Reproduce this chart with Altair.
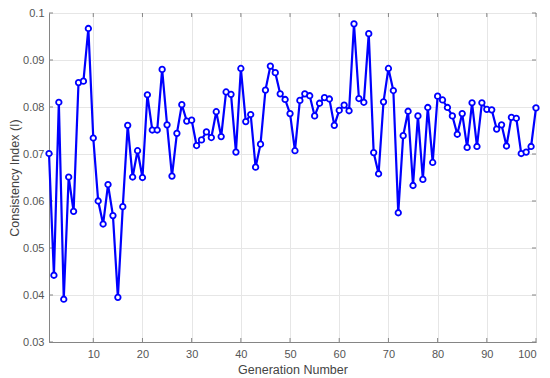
import altair as alt
import pandas as pd

generation = list(range(1, 101))
consistency = [
    0.0701, 0.0442, 0.0810, 0.0391, 0.0651, 0.0578, 0.0852, 0.0855, 0.0967, 0.0734,
    0.0600, 0.0551, 0.0635, 0.0569, 0.0395, 0.0588, 0.0761, 0.0651, 0.0707, 0.0650,
    0.0826, 0.0751, 0.0751, 0.0880, 0.0762, 0.0653, 0.0744, 0.0805, 0.0770, 0.0772,
    0.0718, 0.0730, 0.0747, 0.0735, 0.0790, 0.0737, 0.0832, 0.0827, 0.0704, 0.0882,
    0.0769, 0.0784, 0.0672, 0.0721, 0.0836, 0.0887, 0.0873, 0.0828, 0.0816, 0.0786,
    0.0707, 0.0814, 0.0828, 0.0824, 0.0781, 0.0808, 0.0820, 0.0817, 0.0761, 0.0793,
    0.0804, 0.0792, 0.0977, 0.0818, 0.0810, 0.0956, 0.0703, 0.0658, 0.0811, 0.0882,
    0.0835, 0.0575, 0.0739, 0.0791, 0.0633, 0.0781, 0.0646, 0.0799, 0.0682, 0.0823,
    0.0815, 0.0799, 0.0781, 0.0742, 0.0786, 0.0714, 0.0809, 0.0716, 0.0809, 0.0795,
    0.0794, 0.0753, 0.0762, 0.0717, 0.0778, 0.0776, 0.0701, 0.0704, 0.0716, 0.0798,
]
x_ticks = [10, 20, 30, 40, 50, 60, 70, 80, 90, 100]
y_ticks = [0.03, 0.04, 0.05, 0.06, 0.07, 0.08, 0.09, 0.1]

df = pd.DataFrame({"gen": generation, "ci": consistency})
xt = pd.DataFrame({"v": x_ticks})
yt = pd.DataFrame({"v": y_ticks})

FONT = "Liberation Sans"
BLUE = "#0000FF"
AX = "#858585"
W, H = 487, 329

xs = alt.Scale(domain=[1, 100], nice=False, zero=False)
ys = alt.Scale(domain=[0.03, 0.1], nice=False, zero=False)

x_axis = alt.Axis(values=x_ticks, title="Generation Number", grid=True, gridColor="#e6e6e6",
                  ticks=False, domainColor=AX, labelColor="#555555", labelFont=FONT,
                  labelFontSize=11, titleFont=FONT, titleFontSize=12.5, titleFontWeight="normal",
                  titleColor="#444444", labelPadding=6, titlePadding=4)
y_axis = alt.Axis(values=y_ticks, title="Consistency Index (I)", format=".2~f", grid=True,
                  gridColor="#e6e6e6", ticks=False, domainColor=AX, labelColor="#555555",
                  labelFont=FONT, labelFontSize=11, titleFont=FONT, titleFontSize=12.5,
                  titleFontWeight="normal", titleColor="#444444", labelPadding=5, titlePadding=1)

base = alt.Chart(df)
line = base.mark_line(color=BLUE, strokeWidth=2.2).encode(
    x=alt.X("gen:Q", scale=xs, axis=x_axis),
    y=alt.Y("ci:Q", scale=ys, axis=y_axis),
)
pts = base.mark_point(shape="circle", filled=True, fill="white", stroke=BLUE, strokeWidth=1.8,
                      size=30, opacity=1).encode(
    x=alt.X("gen:Q", scale=xs),
    y=alt.Y("ci:Q", scale=ys),
)

TL = 4
xb = alt.Chart(xt).mark_rule(color=AX, strokeWidth=1).encode(
    x=alt.X("v:Q", scale=xs), y=alt.value(H), y2=alt.value(H - TL))
xtop = alt.Chart(xt).mark_rule(color=AX, strokeWidth=1).encode(
    x=alt.X("v:Q", scale=xs), y=alt.value(0), y2=alt.value(TL))
yl = alt.Chart(yt).mark_rule(color=AX, strokeWidth=1).encode(
    y=alt.Y("v:Q", scale=ys), x=alt.value(0), x2=alt.value(TL))
yr = alt.Chart(yt).mark_rule(color=AX, strokeWidth=1).encode(
    y=alt.Y("v:Q", scale=ys), x=alt.value(W), x2=alt.value(W - TL))

chart = alt.layer(xb, xtop, yl, yr, line, pts).properties(
    width=W, height=H,
    autosize=alt.AutoSizeParams(type="none"),
    padding={"left": 41, "top": 5, "right": 6, "bottom": 36},
    background="white",
).configure_view(stroke=AX, strokeWidth=1)

chart.save("out.html", embed_options={"renderer": "svg", "actions": False})
